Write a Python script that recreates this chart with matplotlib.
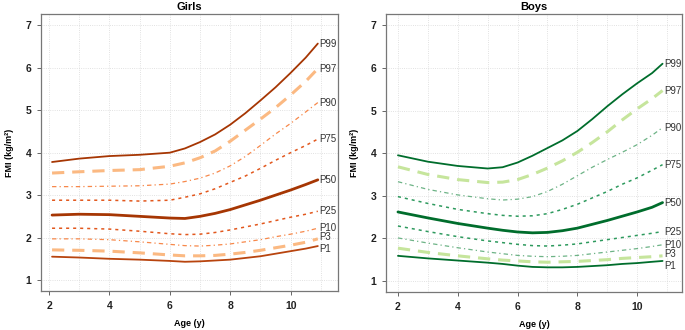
import numpy as np
import matplotlib
matplotlib.use("Agg")
import matplotlib.pyplot as plt

plt.rcParams['font.family'] = ['Liberation Sans', 'DejaVu Sans']

girls_age = [2.1, 3, 4, 5, 6, 6.5, 7, 7.5, 8, 8.5, 9, 9.5, 10, 10.5, 10.9]
boys_age = [2, 3, 4, 5, 5.5, 6, 6.5, 7, 7.5, 8, 8.5, 9, 9.5, 10, 10.5, 10.85]

percentiles = ['P99', 'P97', 'P90', 'P75', 'P50', 'P25', 'P10', 'P3', 'P1']

girls_p99 = [3.78, 3.86, 3.92, 3.95, 4.0, 4.1, 4.25, 4.43, 4.66, 4.93, 5.23, 5.54, 5.88, 6.24, 6.57]
girls_p97 = [3.52, 3.55, 3.58, 3.6, 3.68, 3.76, 3.88, 4.04, 4.27, 4.53, 4.79, 5.06, 5.36, 5.68, 5.98]
girls_p90 = [3.2, 3.2, 3.21, 3.22, 3.26, 3.32, 3.4, 3.52, 3.69, 3.91, 4.17, 4.44, 4.69, 4.96, 5.18]
girls_p75 = [2.88, 2.88, 2.88, 2.86, 2.88, 2.95, 3.03, 3.15, 3.3, 3.45, 3.63, 3.82, 4.0, 4.17, 4.32]
girls_p50 = [2.53, 2.55, 2.54, 2.5, 2.46, 2.45, 2.5, 2.57, 2.66, 2.77, 2.88, 3.0, 3.12, 3.25, 3.36]
girls_p25 = [2.22, 2.22, 2.2, 2.15, 2.09, 2.07, 2.08, 2.12, 2.18, 2.25, 2.32, 2.4, 2.48, 2.55, 2.62]
girls_p10 = [1.97, 1.97, 1.95, 1.9, 1.84, 1.81, 1.8, 1.82, 1.85, 1.9, 1.95, 2.02, 2.08, 2.15, 2.22]
girls_p3 = [1.71, 1.7, 1.68, 1.64, 1.59, 1.57, 1.57, 1.58, 1.61, 1.65, 1.7, 1.76, 1.82, 1.89, 1.97]
girls_p1 = [1.55, 1.53, 1.5, 1.48, 1.45, 1.43, 1.44, 1.46, 1.48, 1.52, 1.56, 1.62, 1.68, 1.74, 1.8]

boys_p99 = [3.95, 3.8, 3.7, 3.64, 3.67, 3.78, 3.94, 4.12, 4.3, 4.52, 4.8, 5.1, 5.38, 5.64, 5.88, 6.1]
boys_p97 = [3.68, 3.5, 3.38, 3.31, 3.32, 3.38, 3.5, 3.65, 3.82, 4.02, 4.25, 4.5, 4.78, 5.04, 5.28, 5.47]
boys_p90 = [3.33, 3.15, 3.02, 2.93, 2.9, 2.92, 2.98, 3.1, 3.27, 3.47, 3.67, 3.85, 4.02, 4.2, 4.42, 4.6]
boys_p75 = [2.98, 2.82, 2.68, 2.58, 2.54, 2.52, 2.53, 2.58, 2.68, 2.8, 2.95, 3.1, 3.27, 3.42, 3.6, 3.73]
boys_p50 = [2.62, 2.48, 2.35, 2.24, 2.19, 2.15, 2.13, 2.14, 2.18, 2.24, 2.33, 2.42, 2.52, 2.62, 2.73, 2.84]
boys_p25 = [2.29, 2.16, 2.04, 1.94, 1.9, 1.86, 1.83, 1.82, 1.84, 1.87, 1.92, 1.97, 2.02, 2.07, 2.12, 2.16]
boys_p10 = [2.01, 1.89, 1.78, 1.68, 1.64, 1.6, 1.58, 1.57, 1.58, 1.6, 1.64, 1.68, 1.72, 1.76, 1.81, 1.85]
boys_p3 = [1.77, 1.67, 1.59, 1.52, 1.49, 1.47, 1.45, 1.44, 1.45, 1.46, 1.48, 1.5, 1.53, 1.55, 1.57, 1.59]
boys_p1 = [1.59, 1.53, 1.48, 1.43, 1.4, 1.36, 1.33, 1.32, 1.32, 1.33, 1.35, 1.37, 1.4, 1.42, 1.45, 1.47]

girls_curves = [girls_p99, girls_p97, girls_p90, girls_p75, girls_p50,
                girls_p25, girls_p10, girls_p3, girls_p1]
boys_curves = [boys_p99, boys_p97, boys_p90, boys_p75, boys_p50,
               boys_p25, boys_p10, boys_p3, boys_p1]

girls_colors = ['#A63603', '#FBB982', '#F7884A', '#E2581E', '#A63603',
                '#E2581E', '#F7884A', '#FBB982', '#B8440E']
boys_colors = ['#006D2C', '#C6E59C', '#6DB386', '#2E9A5E', '#006D2C',
               '#2E9A5E', '#6DB386', '#C6E59C', '#006D2C']

# (linewidth, dash pattern) per percentile
styles = [(1.3, None), (2.2, (4, 2.6)), (0.9, (3.5, 2.5, 1, 2.5)), (1.1, (2, 2.6)),
          (2.0, None), (1.1, (2, 2.6)), (0.9, (3.5, 2.5, 1, 2.5)), (2.2, (4, 2.6)),
          (1.3, None)]

# vertical nudges (points) for the crowded P3 / P1 labels
girls_label_dy = [0, 0, 0, 0, 0, 0, 0, 1.5, -2]
boys_label_dy = [0, 0, 0, 0, 0, 0, 0, 1, -3.5]


def draw_panel(ax, ages, curves, colors, label_dy, title, xlim):
    ax.set_xlim(*xlim)
    ax.set_ylim(0.74, 7.27)
    ax.set_xticks([2, 4, 6, 8, 10])
    ax.set_xticks([3, 5, 7, 9, 11], minor=True)
    ax.set_yticks([1, 2, 3, 4, 5, 6, 7])
    ax.grid(True, which='both', linestyle=':', color='#D8D8D8', linewidth=0.6)
    ax.set_axisbelow(True)
    ax.tick_params(which='minor', length=0)
    ax.tick_params(which='major', direction='out', length=3, width=0.7,
                   color='#666666', labelsize=7.5, labelcolor='#222222', pad=4)
    for lab in ax.get_xticklabels() + ax.get_yticklabels():
        lab.set_fontweight('bold')
    for sp in ax.spines.values():
        sp.set_color('#777777')
        sp.set_linewidth(0.9)

    for name, vals, col, (lw, dash), dy in zip(percentiles, curves, colors, styles, label_dy):
        line, = ax.plot(ages, vals, color=col, linewidth=lw,
                        solid_capstyle='round', solid_joinstyle='round',
                        dash_capstyle='butt')
        if dash is not None:
            line.set_dashes(dash)
        ax.annotate(name, (ages[-1], vals[-1]), xytext=(1, dy),
                    textcoords='offset points', ha='left', va='center',
                    fontsize=7, color='#333333')

    ax.set_title(title, fontsize=8, fontweight='bold', pad=3)
    ax.set_xlabel('Age (y)', fontsize=6.5, fontweight='bold', labelpad=6)
    ax.set_ylabel('FMI (kg/m²)', fontsize=6.5, fontweight='bold', labelpad=8)


fig = plt.figure(figsize=(6.85, 3.3), dpi=100)
ax1 = fig.add_axes([0.0599, 0.118, 0.4336, 0.840])
ax2 = fig.add_axes([0.5635, 0.115, 0.4321, 0.843])

draw_panel(ax1, girls_age, girls_curves, girls_colors, girls_label_dy, 'Girls', (1.735, 11.57))
draw_panel(ax2, boys_age, boys_curves, boys_colors, boys_label_dy, 'Boys', (1.6, 11.5))

fig.savefig('out.png', dpi=100)
